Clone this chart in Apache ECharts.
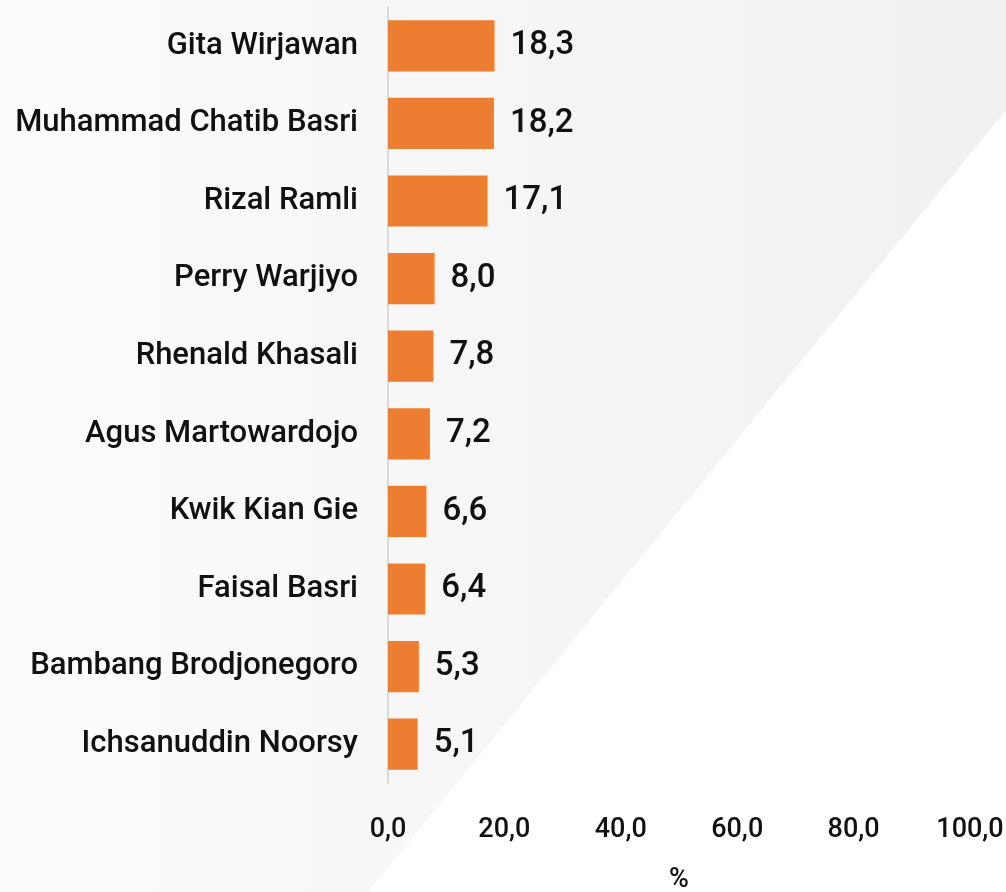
<!DOCTYPE html>
<html>
<head>
<meta charset="utf-8">
<script src="https://cdn.jsdelivr.net/npm/echarts@6/dist/echarts.min.js"></script>
<style>
  html, body { margin: 0; padding: 0; background: #fff; }
  #chart { width: 1006px; height: 892px; }
</style>
</head>
<body>
<div id="chart"></div>
<script>
const names = [
  'Gita Wirjawan',
  'Muhammad Chatib Basri',
  'Rizal Ramli',
  'Perry Warjiyo',
  'Rhenald Khasali',
  'Agus Martowardojo',
  'Kwik Kian Gie',
  'Faisal Basri',
  'Bambang Brodjonegoro',
  'Ichsanuddin Noorsy'
]
const shares = [18.3, 18.2, 17.1, 8.0, 7.8, 7.2, 6.6, 6.4, 5.3, 5.1]
const axisMin = 0
const axisMax = 100
const axisStep = 20

const fmt = v => Number(v).toFixed(1).replace('.', ',')
const font = 'Roboto, "Noto Sans", sans-serif'

const chart = echarts.init(document.getElementById('chart'))
chart.setOption({
  backgroundColor: '#ffffff',
  animation: false,
  graphic: [
    {
      type: 'polygon',
      z: -10,
      silent: true,
      shape: { points: [[0, 0], [1006, 0], [1006, 110], [500, 730], [368, 892], [0, 892]] },
      style: {
        fill: {
          type: 'linear', x: 0, y: 0, x2: 1, y2: 0,
          colorStops: [
            { offset: 0, color: '#fcfcfd' },
            { offset: 1, color: '#f0f0f1' }
          ]
        }
      }
    }
  ],
  grid: { left: 388, right: 36, top: 7, bottom: 109, containLabel: false, outerBoundsMode: 'none' },
  xAxis: {
    type: 'value',
    min: axisMin,
    max: axisMax,
    interval: axisStep,
    name: '%',
    nameLocation: 'middle',
    nameGap: 84,
    nameMoveOverlap: false,
    nameTextStyle: { color: '#111', fontSize: 27, fontWeight: 500, fontFamily: font },
    axisLine: { show: false },
    axisTick: { show: false },
    splitLine: { show: false },
    axisLabel: { color: '#111', fontSize: 27, fontWeight: 500, fontFamily: font, margin: 34, formatter: fmt }
  },
  yAxis: {
    type: 'category',
    inverse: true,
    data: names,
    axisLine: { show: true, lineStyle: { color: '#d9d9d9', width: 2 } },
    axisTick: { show: false },
    axisLabel: { color: '#111', fontSize: 31, fontWeight: 500, fontFamily: font, margin: 30, padding: [5, 0, 0, 0] }
  },
  series: [
    {
      type: 'bar',
      data: shares,
      barCategoryGap: '34%',
      itemStyle: { color: '#ED7D31' },
      label: {
        show: true,
        position: 'right',
        distance: 16,
        color: '#111',
        fontSize: 33,
        fontWeight: 500,
        fontFamily: font,
        padding: [5, 0, 0, 0],
        formatter: p => fmt(p.value)
      }
    }
  ]
})
</script>
</body>
</html>
